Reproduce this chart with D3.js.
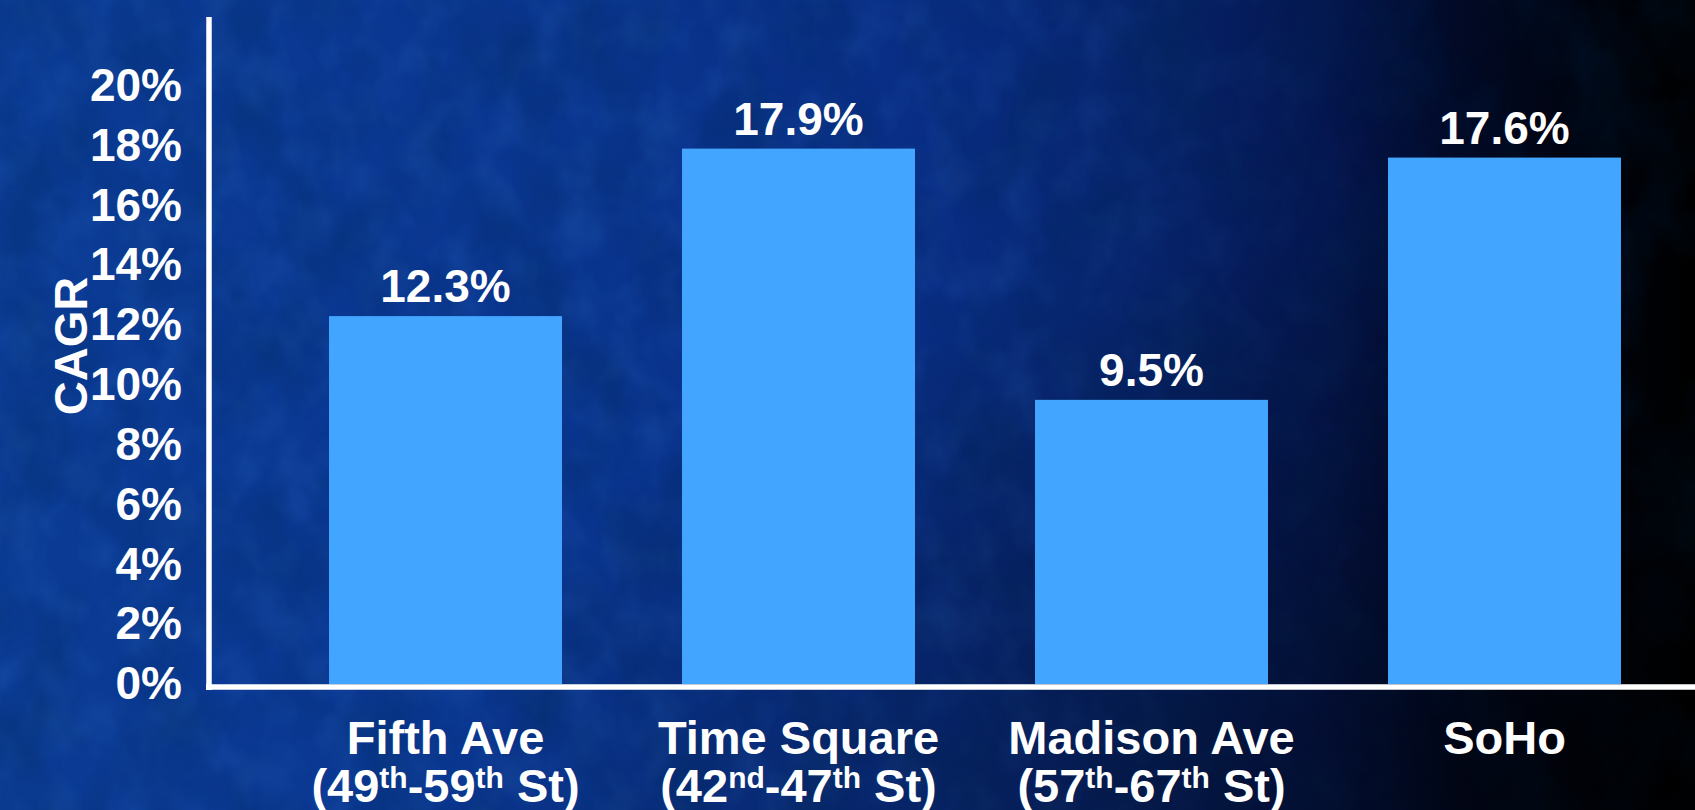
<!DOCTYPE html>
<html>
<head>
<meta charset="utf-8">
<script src="https://cdn.jsdelivr.net/npm/d3@7/dist/d3.min.js"></script>
<style>
  html, body { margin: 0; padding: 0; background: #000; }
  svg { display: block; }
  text { font-family: "Liberation Sans", Arial, sans-serif; font-weight: bold; fill: #fff; }
</style>
</head>
<body>
<svg id="chart" width="1695" height="810"></svg>
<script>
// Retail rent growth by Manhattan corridor
const categories = ["Fifth Ave", "Time Square", "Madison Ave", "SoHo"];
// second label line: [text, superscript] pieces
const subLabels = [
  [["(49", "th"], ["-59", "th"], [" St)", ""]],
  [["(42", "nd"], ["-47", "th"], [" St)", ""]],
  [["(57", "th"], ["-67", "th"], [" St)", ""]],
  []
];
const cagr = [12.3, 17.9, 9.5, 17.6];
const yTicks = [0, 2, 4, 6, 8, 10, 12, 14, 16, 18, 20];
const yTitle = "CAGR";

const W = 1695, H = 810;
const svg = d3.select("#chart");
const defs = svg.append("defs");

// background: deep blue fading to black on the right
const bg = defs.append("linearGradient").attr("id", "bg").attr("x1", 0).attr("x2", 1).attr("y1", 0).attr("y2", 0);
[[0, "#0b3b95"], [0.35, "#0a358f"], [0.55, "#092d84"], [0.68, "#07236a"], [0.78, "#051650"],
 [0.86, "#020a26"], [0.93, "#01040f"], [1, "#000000"]]
  .forEach(([o, c]) => bg.append("stop").attr("offset", o).attr("stop-color", c));

const shade = defs.append("radialGradient").attr("id", "shade")
  .attr("cx", 1).attr("cy", 1).attr("r", 0.75);
shade.append("stop").attr("offset", 0).attr("stop-color", "#000").attr("stop-opacity", 0.55);
shade.append("stop").attr("offset", 1).attr("stop-color", "#000").attr("stop-opacity", 0);

// fade for the light mottling so it dies out toward the dark edge
const fade = defs.append("linearGradient").attr("id", "fade").attr("x1", 0).attr("x2", 1).attr("y1", 0).attr("y2", 0);
fade.append("stop").attr("offset", 0.55).attr("stop-color", "#fff");
fade.append("stop").attr("offset", 0.88).attr("stop-color", "#000");
defs.append("mask").attr("id", "fadeMask")
  .append("rect").attr("width", W).attr("height", H).attr("fill", "url(#fade)");

// mottled texture
const dark = defs.append("filter").attr("id", "mottleDark").attr("x", 0).attr("y", 0).attr("width", 1).attr("height", 1);
dark.append("feTurbulence").attr("type", "fractalNoise").attr("baseFrequency", "0.014 0.01")
  .attr("numOctaves", 4).attr("seed", 7).attr("result", "n");
dark.append("feColorMatrix").attr("type", "matrix")
  .attr("values", "0 0 0 0 0  0 0 0 0 0.02  0 0 0 0 0.08  1.1 0 0 0 -0.42");
const light = defs.append("filter").attr("id", "mottleLight").attr("x", 0).attr("y", 0).attr("width", 1).attr("height", 1);
light.append("feTurbulence").attr("type", "fractalNoise").attr("baseFrequency", "0.025 0.02")
  .attr("numOctaves", 3).attr("seed", 21).attr("result", "n");
light.append("feColorMatrix").attr("type", "matrix")
  .attr("values", "0 0 0 0 0.05  0 0 0 0 0.25  0 0 0 0 0.7  -1.0 0 0 0 0.62");

svg.append("rect").attr("width", W).attr("height", H).attr("fill", "url(#bg)");
svg.append("g").attr("mask", "url(#fadeMask)")
  .append("rect").attr("width", W).attr("height", H).attr("filter", "url(#mottleLight)").attr("opacity", 0.3);
svg.append("rect").attr("width", W).attr("height", H).attr("filter", "url(#mottleDark)").attr("opacity", 0.55);
svg.append("rect").attr("width", W).attr("height", H).attr("fill", "url(#shade)");

// scales
const x = d3.scaleBand().domain(categories).range([269, 1681]).paddingInner(0.34).paddingOuter(0.17);
const y = d3.scaleLinear().domain([0, 22.3]).range([684, 17]);

// bars
svg.append("g").selectAll("rect").data(categories).join("rect")
  .attr("x", d => x(d))
  .attr("width", x.bandwidth())
  .attr("y", (d, i) => y(cagr[i]))
  .attr("height", (d, i) => y(0) - y(cagr[i]))
  .attr("fill", "#42a5ff");

// value labels
svg.append("g").selectAll("text").data(categories).join("text")
  .attr("x", d => x(d) + x.bandwidth() / 2)
  .attr("y", (d, i) => y(cagr[i]) - 14)
  .attr("text-anchor", "middle")
  .style("font-size", "46px")
  .text((d, i) => cagr[i].toFixed(1) + "%");

// y axis ticks
const yAxis = d3.axisLeft(y).tickValues(yTicks).tickSize(0).tickPadding(27).tickFormat(d => d + "%");
const gy = svg.append("g").attr("transform", "translate(209,0)").call(yAxis);
gy.select(".domain").remove();
gy.selectAll("text").style("font-size", "46px").attr("fill", "#fff")
  .style("font-family", "'Liberation Sans', Arial, sans-serif").style("font-weight", "bold");

// axis lines
svg.append("line").attr("x1", 209).attr("x2", 209).attr("y1", y.range()[1]).attr("y2", 690)
  .attr("stroke", "#fff").attr("stroke-width", 5.5);
svg.append("line").attr("x1", 206).attr("x2", W).attr("y1", 687).attr("y2", 687)
  .attr("stroke", "#fff").attr("stroke-width", 5.5);

// x axis category labels (two lines, ordinal suffixes raised)
const supShift = 14;
const xAxis = d3.axisBottom(x).tickSize(0).tickPadding(0);
const gx = svg.append("g").attr("transform", "translate(0,690)").call(xAxis);
gx.select(".domain").remove();
gx.selectAll(".tick text").each(function (d, i) {
  const t = d3.select(this).text(null).attr("y", 0).attr("dy", null)
    .attr("fill", "#fff").style("font-size", "47px")
    .style("font-family", "'Liberation Sans', Arial, sans-serif").style("font-weight", "bold");
  t.append("tspan").attr("x", 0).attr("y", 64).text(d);
  const parts = subLabels[i];
  if (parts.length) {
    const line = t.append("tspan").attr("x", 0).attr("y", 112);
    let raised = false;
    parts.forEach(([main, sup]) => {
      const m = line.append("tspan").text(main);
      if (raised) { m.attr("dy", supShift); raised = false; }
      if (sup) {
        line.append("tspan").attr("dy", -supShift).style("font-size", "30px").text(sup);
        raised = true;
      }
    });
  }
});

// y axis title
svg.append("text")
  .attr("transform", `translate(87,${y(11.3)}) rotate(-90)`)
  .attr("text-anchor", "middle")
  .style("font-size", "47px")
  .text(yTitle);
</script>
</body>
</html>
